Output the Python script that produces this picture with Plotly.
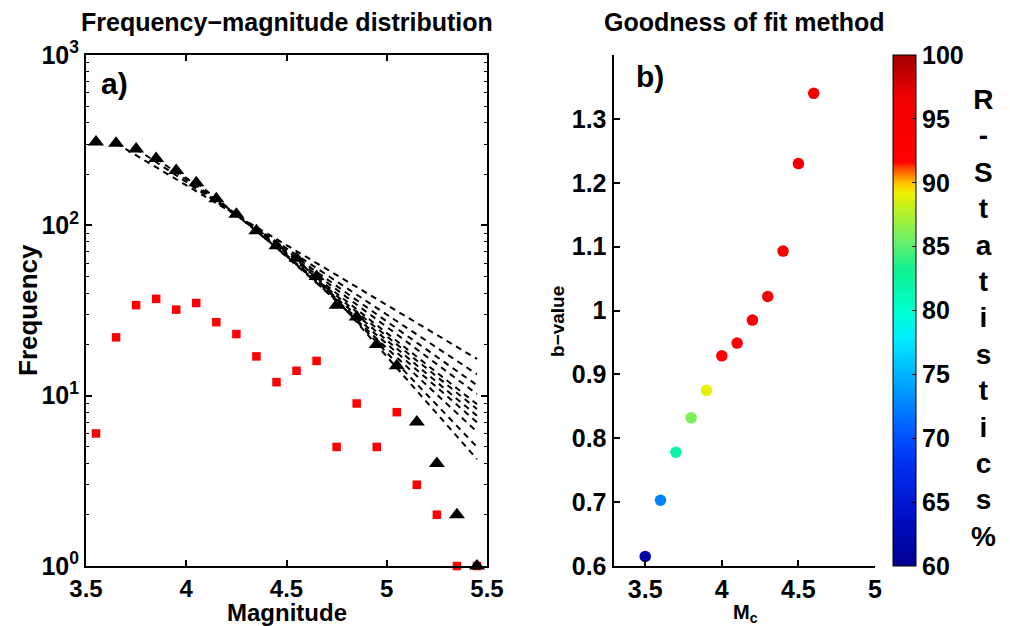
import plotly.graph_objects as go

# ---------------- data ----------------
magnitudes = [3.55, 3.65, 3.75, 3.85, 3.95, 4.05, 4.15, 4.25, 4.35, 4.45,
              4.55, 4.65, 4.75, 4.85, 4.95, 5.05, 5.15, 5.25, 5.35, 5.45]
cumulative_counts = [309, 303, 281, 247, 210, 178, 143, 116, 93, 76,
                     64, 50, 34, 29, 20, 15, 7, 4, 2, 1]
noncumulative_counts = [6, 22, 34, 37, 32, 35, 27, 23, 17, 12,
                        14, 16, 5, 9, 5, 8, 3, 2, 1, 1]

mc_values = [3.5, 3.6, 3.7, 3.8, 3.9, 4.0, 4.1, 4.2, 4.3, 4.4, 4.5, 4.6]
b_values = [0.615, 0.703, 0.778, 0.832, 0.875, 0.929, 0.949, 0.985,
            1.022, 1.093, 1.230, 1.340]
r_statistic = [61.5, 72.5, 82, 86, 89, 93, 93, 93.5, 94, 94, 95, 95]
fit_end_mag = 5.45

left_xticks = [3.5, 4, 4.5, 5, 5.5]
left_yticks = [1, 10, 100, 1000]
left_yticktext = ["10<sup>0</sup>", "10<sup>1</sup>", "10<sup>2</sup>", "10<sup>3</sup>"]
right_xticks = [3.5, 4, 4.5, 5]
right_yticks = [0.6, 0.7, 0.8, 0.9, 1.0, 1.1, 1.2, 1.3]
right_yticktext = ["0.6", "0.7", "0.8", "0.9", "1", "1.1", "1.2", "1.3"]
cbar_ticks = [60, 65, 70, 75, 80, 85, 90, 95, 100]

colorscale = [
    [0.00, "#00008f"], [0.10, "#0010c8"], [0.20, "#0030f0"], [0.25, "#0050ff"],
    [0.35, "#00a0ff"], [0.45, "#00f0ff"], [0.50, "#00ffd0"], [0.58, "#10f090"],
    [0.63, "#60f070"], [0.70, "#c0f020"], [0.73, "#f0f000"], [0.75, "#ffc000"],
    [0.765, "#ff8000"], [0.78, "#ff4000"], [0.79, "#ff0000"], [0.92, "#f00000"],
    [1.00, "#a00000"],
]

# ---------------- figure ----------------
W, H = 1010, 626
def px(x):
    return x / W
def py(y):
    return (H - y) / H

FONT = "Liberation Sans, Arial, Helvetica, sans-serif"
bold = dict(family=FONT, color="black", weight="bold")
TICK = 25

fig = go.Figure()

# fitted G-R lines
for mc, b in zip(mc_values[1:], b_values[1:]):
    m0 = round(mc + 0.05, 2)
    i = [round(m, 2) for m in magnitudes].index(m0)
    n0 = cumulative_counts[i]
    fig.add_trace(go.Scatter(
        x=[m0, fit_end_mag], y=[n0, n0 * 10 ** (-b * (fit_end_mag - m0))],
        mode="lines", line=dict(color="black", width=2, dash="6px,5px"),
        xaxis="x", yaxis="y", showlegend=False, hoverinfo="skip"))

fig.add_trace(go.Scatter(
    x=magnitudes, y=noncumulative_counts, mode="markers",
    marker=dict(symbol="square", size=8.5, color="#ff0000"),
    xaxis="x", yaxis="y", showlegend=False, cliponaxis=False))
fig.add_trace(go.Scatter(
    x=magnitudes, y=cumulative_counts, mode="markers",
    marker=dict(symbol="triangle-up", size=14, color="black"),
    xaxis="x", yaxis="y", showlegend=False, cliponaxis=False))

fig.add_trace(go.Scatter(
    x=mc_values, y=b_values, mode="markers",
    marker=dict(size=11.5, color=r_statistic, colorscale=colorscale,
                cmin=60, cmax=100, showscale=True,
                colorbar=dict(
                    x=px(892.5), xanchor="left", y=py(566), yanchor="bottom",
                    lenmode="pixels", len=511, thicknessmode="pixels", thickness=23,
                    xpad=0, ypad=0, outlinewidth=1, outlinecolor="black",
                    tickvals=cbar_ticks, ticks="inside", ticklen=4,
                    tickcolor="black", ticklabelposition="outside",
                    tickfont=dict(size=TICK, **bold))),
    xaxis="x2", yaxis="y2", showlegend=False, cliponaxis=False))

ydom = [py(566), py(55)]
axis_common = dict(showline=True, linecolor="black", linewidth=2,
                   ticks="inside", ticklen=6, tickwidth=1.5, tickcolor="black",
                   showgrid=False, zeroline=False, automargin=False,
                   tickfont=dict(size=TICK, **bold))
fig.update_layout(
    width=W, height=H, margin=dict(l=0, r=0, t=0, b=0, autoexpand=False),
    paper_bgcolor="white", plot_bgcolor="white",
    xaxis=dict(domain=[px(86), px(487)], range=[3.5, 5.5], tickvals=left_xticks,
               ticktext=["3.5", "4", "4.5", "5", "5.5"], mirror="ticks",
               **{**axis_common, "tickfont": dict(size=24, **bold)}),
    yaxis=dict(domain=ydom, type="log", range=[0, 3], tickvals=left_yticks,
               ticktext=left_yticktext, mirror="ticks",
               minor=dict(ticks="inside", ticklen=3, tickwidth=1, tickcolor="black",
                          dtick="D1", showgrid=False),
               **axis_common),
    xaxis2=dict(domain=[px(613.5), px(875)], range=[3.293, 5.0], tickvals=right_xticks,
                ticktext=["3.5", "4", "4.5", "5"], anchor="y2", **axis_common),
    yaxis2=dict(domain=ydom, range=[0.6, 1.4], tickvals=right_yticks,
                ticktext=right_yticktext, anchor="x2", **axis_common),
)

ann = [
    dict(text="Frequency\u2212magnitude distribution", x=px(287), y=py(22), size=25),
    dict(text="Goodness of fit method", x=px(744), y=py(22), size=25),
    dict(text="Magnitude", x=px(287), y=py(612), size=24),
    dict(text="Frequency", x=px(28), y=py(310), size=26, angle=-90),
    dict(text="b\u2212value", x=px(557), y=py(322), size=19, angle=-90),
    dict(text="M<sub>c</sub>", x=px(745), y=py(613), size=20),
    dict(text="a)", x=px(114), y=py(84), size=30),
    dict(text="b)", x=px(650), y=py(77), size=30),
    dict(text="<br>".join(list("R-Statistics%")), x=px(983), y=py(318), size=28),
]
for a in ann:
    fig.add_annotation(text=a["text"], x=a["x"], y=a["y"], xref="paper", yref="paper",
                       showarrow=False, xanchor="center", yanchor="middle",
                       textangle=a.get("angle", 0),
                       font=dict(size=a["size"], **bold))

fig.write_html("out.html")
